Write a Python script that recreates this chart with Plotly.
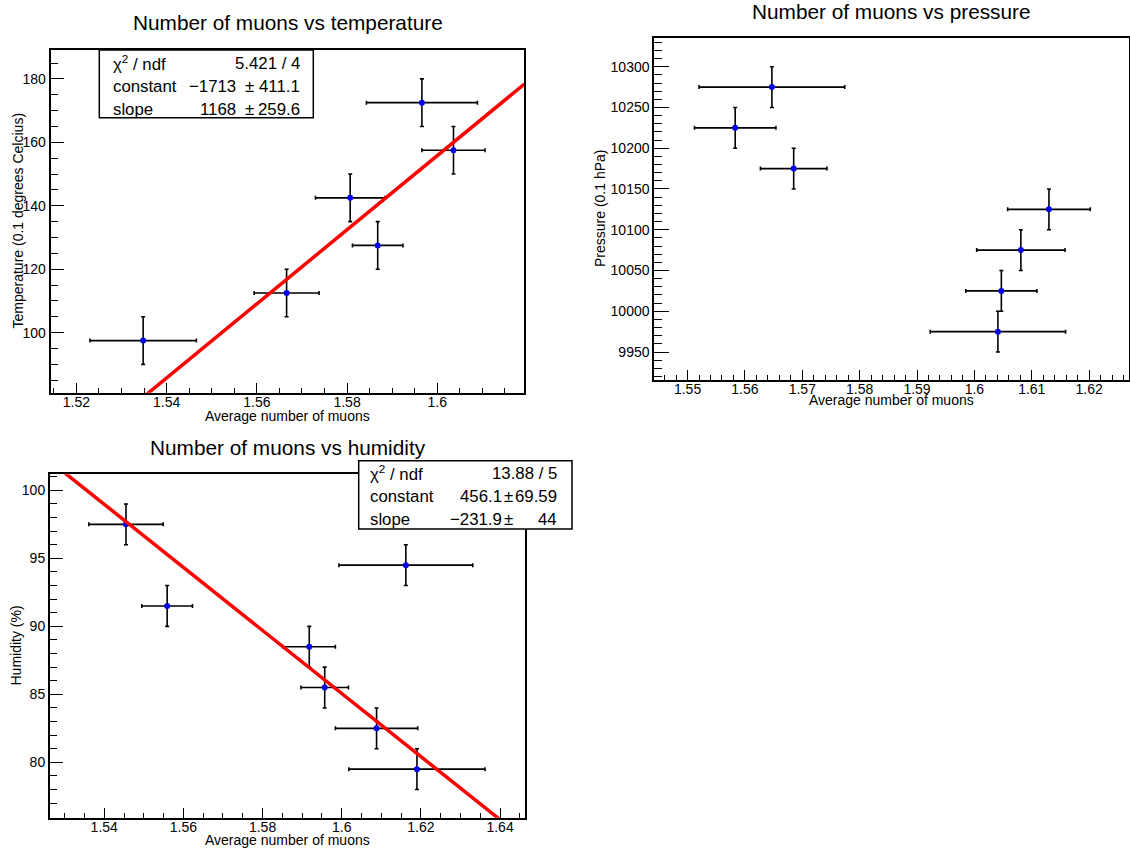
import plotly.graph_objects as go

W, H = 1130, 853
FONT = "Liberation Sans, Arial, Helvetica, sans-serif"

# ---------------- data ----------------
titles = ["Number of muons vs temperature", "Number of muons vs pressure", "Number of muons vs humidity"]
x_title = "Average number of muons"
y_titles = ["Temperature (0.1 degrees Celcius)", "Pressure (0.1 hPa)", "Humidity (%)"]

temp_x = [1.5348, 1.5666, 1.5807, 1.5868, 1.5966, 1.6036]
temp_xerr = [0.0118, 0.0072, 0.0077, 0.0056, 0.0123, 0.0070]
temp_y = [97.5, 112.5, 142.5, 127.5, 172.5, 157.5]
temp_yerr = [7.5, 7.5, 7.5, 7.5, 7.5, 7.5]

pres_x = [1.5647, 1.5583, 1.5685, 1.6130, 1.6081, 1.6047, 1.6041]
pres_xerr = [0.0127, 0.0071, 0.0058, 0.0072, 0.0077, 0.0062, 0.0118]
pres_y = [10275, 10225, 10175, 10125, 10075, 10025, 9975]
pres_yerr = [25, 25, 25, 25, 25, 25, 25]

hum_x = [1.5455, 1.5559, 1.5918, 1.5957, 1.6088, 1.6190, 1.6162]
hum_xerr = [0.0094, 0.0064, 0.0066, 0.0060, 0.0104, 0.0172, 0.0169]
hum_y = [97.5, 91.5, 88.5, 85.5, 82.5, 79.5, 94.5]
hum_yerr = [1.5, 1.5, 1.5, 1.5, 1.5, 1.5, 1.5]

# fit results (constant, slope) and stats box text
temp_fit = [-1713.0, 1168.0]
hum_fit = [456.1, -231.9]
temp_stats_labels = ["χ<sup>2</sup> / ndf", "constant", "slope"]
temp_stats_values = ["5.421 / 4", "−1713", "1168"]
temp_stats_errors = ["", "411.1", "259.6"]
hum_stats_labels = ["χ<sup>2</sup> / ndf", "constant", "slope"]
hum_stats_values = ["13.88 / 5", "456.1", "−231.9"]
hum_stats_errors = ["", "69.59", "44"]

# tick labels
temp_xticks = [1.52, 1.54, 1.56, 1.58, 1.60]
temp_xticktext = ["1.52", "1.54", "1.56", "1.58", "1.6"]
temp_yticks = [100, 120, 140, 160, 180]
temp_yticktext = ["100", "120", "140", "160", "180"]
pres_xticks = [1.55, 1.56, 1.57, 1.58, 1.59, 1.60, 1.61, 1.62]
pres_xticktext = ["1.55", "1.56", "1.57", "1.58", "1.59", "1.6", "1.61", "1.62"]
pres_yticks = [9950, 10000, 10050, 10100, 10150, 10200, 10250, 10300]
pres_yticktext = ["9950", "10000", "10050", "10100", "10150", "10200", "10250", "10300"]
hum_xticks = [1.54, 1.56, 1.58, 1.60, 1.62, 1.64]
hum_xticktext = ["1.54", "1.56", "1.58", "1.6", "1.62", "1.64"]
hum_yticks = [80, 85, 90, 95, 100]
hum_yticktext = ["80", "85", "90", "95", "100"]

# ---------------- layout geometry (pixels) ----------------
def px(x):
    return x / W

def py(y):
    return 1 - y / H

frames = [  # left, top, right, bottom
    (50.7, 50.0, 524.3, 392.7),
    (654.3, 37.7, 1128.7, 380.3),
    (50.0, 474.3, 525.0, 817.7),
]
xranges = [[1.5143, 1.6193], [1.5442, 1.6269], [1.5263, 1.6463]]
yranges = [[81.07, 189.1], [9915.3, 10335.6], [75.93, 101.18]]
xminor = [(0.005, 1.52), (0.002, 1.55), (0.005, 1.54)]
yminor = [(5, 100), (10, 9950), (1, 80)]
ytlen = [(13, 7), (15, 8), (13, 7)]

fig = go.Figure()

datasets = [
    (temp_x, temp_xerr, temp_y, temp_yerr),
    (pres_x, pres_xerr, pres_y, pres_yerr),
    (hum_x, hum_xerr, hum_y, hum_yerr),
]
for i, (xs, xe, ys, ye) in enumerate(datasets):
    ax = "" if i == 0 else str(i + 1)
    fig.add_trace(go.Scatter(
        x=xs, y=ys, mode="markers",
        marker=dict(color="#0000ee", size=6),
        error_x=dict(type="data", array=xe, color="black", thickness=1.6, width=2),
        error_y=dict(type="data", array=ye, color="black", thickness=1.6, width=2),
        xaxis="x" + ax, yaxis="y" + ax, showlegend=False, hoverinfo="skip",
    ))

# fit lines across the full x range (clipped by the frame)
for i, fit in [(0, temp_fit), (2, hum_fit)]:
    ax = "" if i == 0 else str(i + 1)
    xr = xranges[i]
    fig.add_trace(go.Scatter(
        x=xr, y=[fit[0] + fit[1] * v for v in xr], mode="lines",
        line=dict(color="#ff0000", width=3.5),
        xaxis="x" + ax, yaxis="y" + ax, showlegend=False, hoverinfo="skip",
    ))

ticks = [
    (temp_xticks, temp_xticktext, temp_yticks, temp_yticktext),
    (pres_xticks, pres_xticktext, pres_yticks, pres_yticktext),
    (hum_xticks, hum_xticktext, hum_yticks, hum_yticktext),
]
axis_common = dict(
    showgrid=False, zeroline=False, showline=True, linecolor="black", linewidth=2,
    mirror=True, ticks="inside", tickcolor="black", tickwidth=1,
    tickfont=dict(family=FONT, size=14, color="black"), tickmode="array",
)
layout = {}
for i in range(3):
    l, t, r, b = frames[i]
    xv, xt, yv, yt = ticks[i]
    xn = "xaxis" if i == 0 else f"xaxis{i+1}"
    yn = "yaxis" if i == 0 else f"yaxis{i+1}"
    ax = "x" if i == 0 else f"x{i+1}"
    ay = "y" if i == 0 else f"y{i+1}"
    layout[xn] = dict(axis_common, domain=[px(l), px(r)], range=xranges[i], anchor=ay,
                      tickvals=xv, ticktext=xt, ticklen=10, ticklabelstandoff=-5,
                      minor=dict(dtick=xminor[i][0], tick0=xminor[i][1], ticks="inside",
                                 ticklen=5, tickwidth=1, tickcolor="black", showgrid=False))
    layout[yn] = dict(axis_common, domain=[py(b), py(t)], range=yranges[i], anchor=ax,
                      tickvals=yv, ticktext=yt, ticklen=ytlen[i][0],
                      minor=dict(dtick=yminor[i][0], tick0=yminor[i][1], ticks="inside",
                                 ticklen=ytlen[i][1], tickwidth=1, tickcolor="black", showgrid=False))

fig.update_layout(
    width=W, height=H, margin=dict(l=0, r=0, t=0, b=0),
    paper_bgcolor="white", plot_bgcolor="white", showlegend=False,
    font=dict(family=FONT, color="black"), **layout,
)

annotations = []
shapes = []

# titles
title_pos = [(287.5, 22.0), (891.5, 11.5), (287.5, 447.0)]
for (x, y), txt in zip(title_pos, titles):
    annotations.append(dict(x=px(x), y=py(y), xref="paper", yref="paper", text=txt,
                            showarrow=False, xanchor="center", yanchor="middle",
                            font=dict(family=FONT, size=20.8, color="black")))
# x titles
for x, y in [(287.5, 416.0), (891.5, 400.0), (287.5, 840.0)]:
    annotations.append(dict(x=px(x), y=py(y), xref="paper", yref="paper", text=x_title,
                            showarrow=False, xanchor="center", yanchor="middle",
                            font=dict(family=FONT, size=14, color="black")))
# y titles
for (x, y), txt in zip([(17.5, 221.0), (600.0, 208.0), (15.5, 646.0)], y_titles):
    annotations.append(dict(x=px(x), y=py(y), xref="paper", yref="paper", text=txt,
                            showarrow=False, xanchor="center", yanchor="middle", textangle=-90,
                            font=dict(family=FONT, size=14, color="black")))

# stats boxes
stats = [
    dict(box=(99.3, 50.0, 313.3, 117.7), rows=[63.3, 86.7, 109.3], lx=110.7, vx=238.0, pmx=249.5, ex=302.0,
         labels=temp_stats_labels, values=temp_stats_values, errors=temp_stats_errors),
    dict(box=(358.7, 460.7, 572.0, 529.0), rows=[473.3, 496.7, 519.3], lx=368.0, vx=503.5, pmx=508.3, ex=559.3,
         labels=hum_stats_labels, values=hum_stats_values, errors=hum_stats_errors),
]
SF = 16.8
for s in stats:
    l, t, r, b = s["box"]
    shapes.append(dict(type="rect", xref="paper", yref="paper", x0=px(l), x1=px(r), y0=py(b), y1=py(t),
                       line=dict(color="black", width=1.5), fillcolor="white", layer="above"))
    for k, yrow in enumerate(s["rows"]):
        f = dict(family=FONT, size=SF, color="black")
        annotations.append(dict(x=px(s["lx"]), y=py(yrow), xref="paper", yref="paper",
                                text=s["labels"][k], showarrow=False, xanchor="left", yanchor="middle", font=f))
        if s["errors"][k] == "":
            annotations.append(dict(x=px(s["ex"]), y=py(yrow), xref="paper", yref="paper",
                                    text=s["values"][k], showarrow=False, xanchor="right", yanchor="middle", font=f))
        else:
            annotations.append(dict(x=px(s["vx"]), y=py(yrow), xref="paper", yref="paper",
                                    text=s["values"][k], showarrow=False, xanchor="right", yanchor="middle", font=f))
            annotations.append(dict(x=px(s["pmx"]), y=py(yrow), xref="paper", yref="paper",
                                    text="±", showarrow=False, xanchor="center", yanchor="middle", font=f))
            annotations.append(dict(x=px(s["ex"]), y=py(yrow), xref="paper", yref="paper",
                                    text=s["errors"][k], showarrow=False, xanchor="right", yanchor="middle", font=f))

fig.update_layout(annotations=annotations, shapes=shapes)
fig.write_html("out.html")
